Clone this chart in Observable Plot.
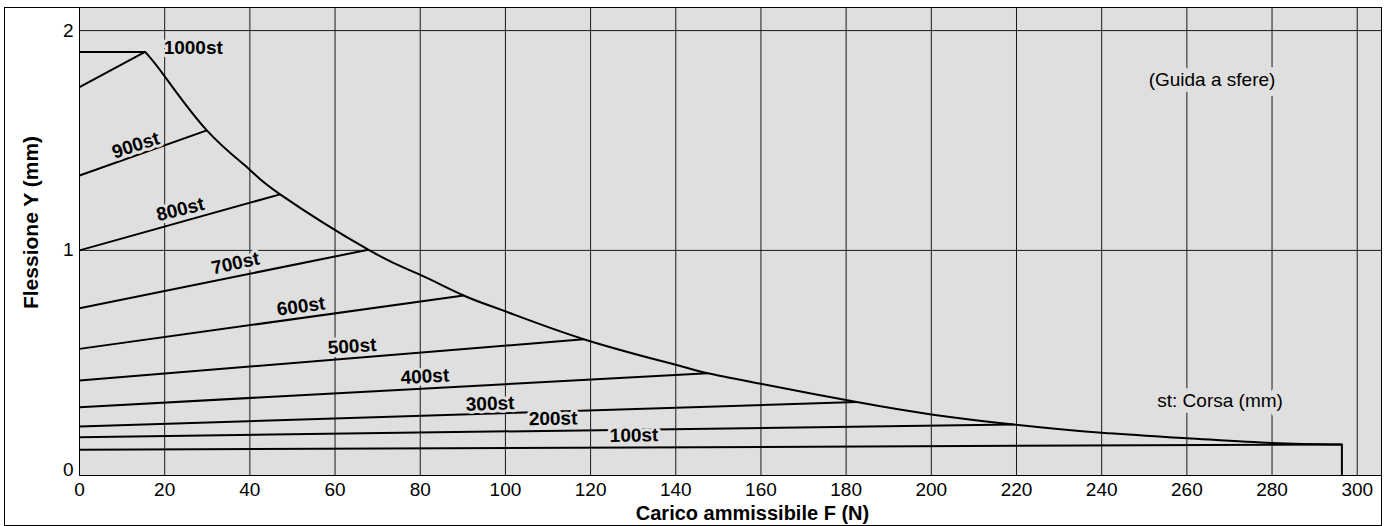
<!DOCTYPE html>
<html>
<head>
<meta charset="utf-8">
<script src="https://cdn.jsdelivr.net/npm/d3@7"></script>
<script src="https://cdn.jsdelivr.net/npm/@observablehq/plot@0.6"></script>
<style>
  html, body { margin: 0; padding: 0; background: #fff; }
  #wrap { position: relative; width: 1393px; height: 526px; }
  #outer { position: absolute; left: 4px; top: 7px; width: 1378px; height: 519px; border: 1px solid #000; box-sizing: border-box; pointer-events: none; }
  svg { display: block; }
</style>
</head>
<body>
<div id="wrap"><div id="outer"></div></div>
<script>
// ---- Data ----
const xTicks = [0, 20, 40, 60, 80, 100, 120, 140, 160, 180, 200, 220, 240, 260, 280, 300];
const yTicks = [0, 1, 2];

// Stroke lines: deflection at F=0 and end point on the envelope
const strokes = ["100st", "200st", "300st", "400st", "500st", "600st", "700st", "800st", "900st", "1000st"];
const startY  = [0.093, 0.150, 0.199, 0.287, 0.408, 0.552, 0.737, 1.000, 1.341, 1.743];
const endX    = [296.4, 219.3, 182.5, 147.5, 118.4, 90.2, 67.8, 47.1, 29.9, 15.4];
const endY    = [0.117, 0.208, 0.310, 0.441, 0.596, 0.795, 1.003, 1.255, 1.546, 1.903];

// Maximum deflection cap (horizontal at top-left)
const capY = 1.903;

// Envelope (allowable load limit curve)
const envX = [15.4, 19.7, 29.9, 39.7, 47.1, 67.8, 79.4, 90.2, 99.4, 118.4, 139.1, 147.5, 160, 182.5, 200, 219.3, 240, 260, 280, 296.4];
const envY = [1.903, 1.800, 1.546, 1.372, 1.255, 1.003, 0.894, 0.795, 0.727, 0.596, 0.484, 0.441, 0.393, 0.310, 0.254, 0.208, 0.170, 0.146, 0.124, 0.117];

// Label positions / angles for stroke labels
const labelX     = [130.2, 111.2, 96.4, 81.1, 64.0, 52.0, 36.6, 23.7, 13.2, 26.7];
const labelY     = [0.158, 0.234, 0.302, 0.426, 0.563, 0.745, 0.941, 1.186, 1.478, 1.922];
const labelAngle = [-1, -1, -2, -3, -4, -8, -12, -14, -18, 0];

const notes  = ["(Guida a sfere)", "st: Corsa (mm)"];
const noteX  = [265.9, 267.8];
const noteY  = [1.774, 0.317];

const xLabel = "Carico ammissibile F (N)";
const yLabel = "Flessione Y (mm)";

// ---- Build tables ----
const bg = "#dfdfdf";
const segs = strokes.map((s, i) => ({s, x1: 0, y1: startY[i], x2: endX[i], y2: endY[i]}));
segs.push({s: "cap", x1: 0, y1: capY, x2: envX[0], y2: capY});
const env = envX.map((x, i) => ({x, y: envY[i]}));
const labels = strokes.map((s, i) => ({s, x: labelX[i], y: labelY[i], a: labelAngle[i]}));
const noteData = notes.map((t, i) => ({t, x: noteX[i], y: noteY[i]}));
const yDomain = [-0.024, 2.105];
const lastX = envX[envX.length - 1], lastY = envY[envY.length - 1];

const font = "'Liberation Sans', Arial, Helvetica, sans-serif";
const fmt = d => String(d);

const chart = Plot.plot({
  width: 1393,
  height: 526,
  marginLeft: 79,
  marginRight: 12,
  marginTop: 7,
  marginBottom: 51,
  style: {fontFamily: font, fontSize: "19px", background: "transparent", color: "#000"},
  x: {domain: [0, 305.7]},
  y: {domain: yDomain},
  marks: [
    Plot.frame({fill: bg, stroke: null}),
    Plot.gridX(xTicks.filter(d => d > 0), {stroke: "#1a1a1a", strokeOpacity: 1, strokeWidth: 1}),
    Plot.gridY(yTicks.filter(d => d > 0), {stroke: "#1a1a1a", strokeOpacity: 1, strokeWidth: 1}),
    Plot.axisX(xTicks, {tickSize: 0, tickPadding: 7, tickFormat: fmt, label: null, fontSize: 19}),
    Plot.axisY(yTicks, {tickSize: 0, tickPadding: 6, tickFormat: fmt, label: null, fontSize: 19}),
    Plot.link(segs, {x1: "x1", y1: "y1", x2: "x2", y2: "y2", stroke: "#000", strokeWidth: 2}),
    Plot.line(env, {x: "x", y: "y", curve: "natural", stroke: "#000", strokeWidth: 2}),
    Plot.ruleX([lastX], {y1: lastY, y2: yDomain[0], stroke: "#000", strokeWidth: 2}),
    Plot.text(labels, {x: "x", y: "y", text: "s", rotate: "a", fontWeight: "bold", fontSize: 19,
      fill: "#000", stroke: bg, strokeWidth: 6, paintOrder: "stroke"}),
    Plot.text(noteData, {x: "x", y: "y", text: "t", fontSize: 19,
      fill: "#000", stroke: bg, strokeWidth: 12, paintOrder: "stroke"}),
    Plot.text([xLabel], {frameAnchor: "bottom", textAnchor: "middle", lineAnchor: "middle", dx: 22, dy: 38, fontWeight: "bold", fontSize: 20, fill: "#000"}),
    Plot.text([yLabel], {frameAnchor: "left", textAnchor: "middle", lineAnchor: "middle", dx: -48, dy: -19, rotate: -90, fontWeight: "bold", fontSize: 21, fill: "#000"}),
    Plot.frame({stroke: "#000", strokeWidth: 1})
  ]
});
document.getElementById("wrap").prepend(chart);
</script>
</body>
</html>
